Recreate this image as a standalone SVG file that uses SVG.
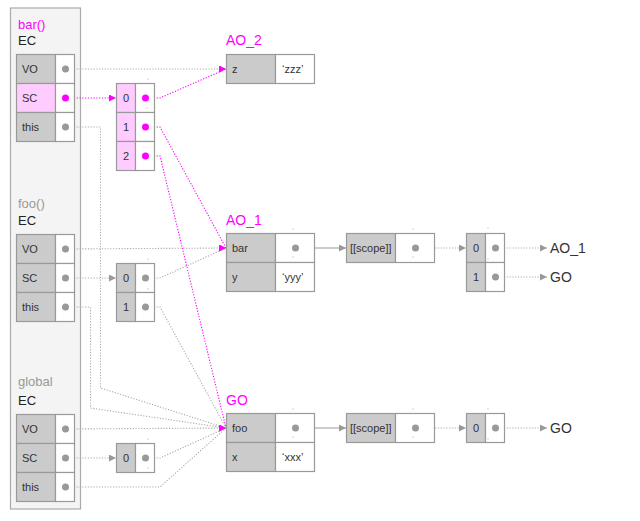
<svg xmlns="http://www.w3.org/2000/svg" width="640" height="521" viewBox="0 0 640 521">
<style>
text{font-family:"Liberation Sans","Noto Sans",Arial,sans-serif;fill:#333}
.cell{font-size:11px}
.lab{font-size:13px;fill:#222}
.mag{fill:#ff00ff}
.dim{fill:#999}
.big{font-size:14px}
.k{fill:#cbcbcb;stroke:#999;stroke-width:1.2}
.kp{fill:#ffccff;stroke:#999;stroke-width:1.2}
.v{fill:#fff;stroke:#999;stroke-width:1.2}
.d{fill:#999}
.dm{fill:#ff00ff}
.c{fill:none;stroke:#aaa;stroke-width:1.1;stroke-dasharray:1.2 1.6}
.cm{fill:none;stroke:#ff00ff;stroke-width:1.1;stroke-dasharray:1.2 1.6}
.cs{fill:none;stroke:#999;stroke-width:1.1}
.sp{fill:#ccc}
</style>
<defs>
<marker id="ag" markerUnits="userSpaceOnUse" markerWidth="9" markerHeight="9" refX="7" refY="3.5" orient="0"><path d="M0,0 L7,3.5 L0,7 z" fill="#999"/></marker>
<marker id="am" markerUnits="userSpaceOnUse" markerWidth="9" markerHeight="9" refX="7" refY="3.5" orient="0"><path d="M0,0 L7,3.5 L0,7 z" fill="#ff00ff"/></marker>
</defs>

<rect x="10.5" y="8" width="70" height="501" fill="#f4f4f4" stroke="#aaa" stroke-width="1.2"/>

<g id="connectors">
<path class="c" d="M65.5,69 L226,69" marker-end="url(#ag)"/>
<path class="c" d="M65.5,127 L100.5,127 L100.5,388 L226,428" marker-end="url(#ag)"/>
<path class="c" d="M65.5,249 L226,248" marker-end="url(#ag)"/>
<path class="c" d="M65.5,278 L116,278" marker-end="url(#ag)"/>
<path class="c" d="M145.5,278 L160,278 L226,248"/>
<path class="c" d="M145.5,307 L160,307 L226,428"/>
<path class="c" d="M65.5,307 L90.5,307 L90.5,408 L226,428"/>
<path class="c" d="M65.5,429 L226,428" marker-end="url(#ag)"/>
<path class="c" d="M65.5,458 L116,458" marker-end="url(#ag)"/>
<path class="c" d="M145.5,458 L160,458 L226,428"/>
<path class="c" d="M65.5,487 L160,487 L226,428"/>
<path class="cs" d="M295.5,248 L346,248" marker-end="url(#ag)"/>
<path class="c" d="M415.5,248 L466,248" marker-end="url(#ag)"/>
<path class="c" d="M495.5,248 L547,248" marker-end="url(#ag)"/>
<path class="c" d="M495.5,277 L547,277" marker-end="url(#ag)"/>
<path class="cs" d="M295.5,428 L346,428" marker-end="url(#ag)"/>
<path class="c" d="M415.5,428 L466,428" marker-end="url(#ag)"/>
<path class="c" d="M495.5,428 L547,428" marker-end="url(#ag)"/>
<path class="cm" d="M65.5,98 L116,98" marker-end="url(#am)"/>
<path class="cm" d="M145.5,98 L160,98 L226,69" marker-end="url(#am)"/>
<path class="cm" d="M145.5,127 L160,127 L226,248" marker-end="url(#am)"/>
<path class="cm" d="M145.5,156 L160,156 L226,428" marker-end="url(#am)"/>
</g>

<g id="bar-ec">
<text class="lab mag" x="18" y="29">bar()</text>
<text class="lab" x="18" y="45">EC</text>
<rect class="k" x="16.5" y="54.5" width="39" height="29"/><rect class="v" x="55.5" y="54.5" width="19" height="29"/>
<rect class="kp" x="16.5" y="83.5" width="39" height="29"/><rect class="v" x="55.5" y="83.5" width="19" height="29"/>
<rect class="k" x="16.5" y="112.5" width="39" height="29"/><rect class="v" x="55.5" y="112.5" width="19" height="29"/>
<text class="cell" x="22" y="73">VO</text><text class="cell" x="22" y="102">SC</text><text class="cell" x="22" y="131">this</text>
<circle class="d" cx="65.5" cy="69" r="3.5"/><circle class="dm" cx="65.5" cy="98" r="3.5"/><circle class="d" cx="65.5" cy="127" r="3.5"/>
</g>

<g id="bar-sc">
<rect class="kp" x="116.5" y="83.5" width="19" height="29"/><rect class="v" x="135.5" y="83.5" width="19" height="29"/>
<rect class="kp" x="116.5" y="112.5" width="19" height="29"/><rect class="v" x="135.5" y="112.5" width="19" height="29"/>
<rect class="kp" x="116.5" y="141.5" width="19" height="29"/><rect class="v" x="135.5" y="141.5" width="19" height="29"/>
<text class="cell" x="126" y="102" text-anchor="middle">0</text><text class="cell" x="126" y="131" text-anchor="middle">1</text><text class="cell" x="126" y="160" text-anchor="middle">2</text>
<circle class="dm" cx="145.5" cy="98" r="3.5"/><circle class="dm" cx="145.5" cy="127" r="3.5"/><circle class="dm" cx="145.5" cy="156" r="3.5"/>
<circle class="sp" cx="148" cy="79" r="0.8"/><circle class="sp" cx="147" cy="108" r="0.8"/>
</g>

<g id="foo-ec">
<text class="lab dim" x="18" y="208">foo()</text>
<text class="lab" x="18" y="225">EC</text>
<rect class="k" x="16.5" y="234.5" width="39" height="29"/><rect class="v" x="55.5" y="234.5" width="19" height="29"/>
<rect class="k" x="16.5" y="263.5" width="39" height="29"/><rect class="v" x="55.5" y="263.5" width="19" height="29"/>
<rect class="k" x="16.5" y="292.5" width="39" height="29"/><rect class="v" x="55.5" y="292.5" width="19" height="29"/>
<text class="cell" x="22" y="253">VO</text><text class="cell" x="22" y="282">SC</text><text class="cell" x="22" y="311">this</text>
<circle class="d" cx="65.5" cy="249" r="3.5"/><circle class="d" cx="65.5" cy="278" r="3.5"/><circle class="d" cx="65.5" cy="307" r="3.5"/>
</g>

<g id="foo-sc">
<rect class="k" x="116.5" y="263.5" width="19" height="29"/><rect class="v" x="135.5" y="263.5" width="19" height="29"/>
<rect class="k" x="116.5" y="292.5" width="19" height="29"/><rect class="v" x="135.5" y="292.5" width="19" height="29"/>
<text class="cell" x="126" y="282" text-anchor="middle">0</text><text class="cell" x="126" y="311" text-anchor="middle">1</text>
<circle class="d" cx="145.5" cy="278" r="3.5"/><circle class="d" cx="145.5" cy="307" r="3.5"/>
<circle class="sp" cx="148" cy="259" r="0.8"/><circle class="sp" cx="148" cy="289" r="0.8"/>
</g>

<g id="global-ec">
<text class="lab dim" x="18" y="386">global</text>
<text class="lab" x="18" y="405">EC</text>
<rect class="k" x="16.5" y="414.5" width="39" height="29"/><rect class="v" x="55.5" y="414.5" width="19" height="29"/>
<rect class="k" x="16.5" y="443.5" width="39" height="29"/><rect class="v" x="55.5" y="443.5" width="19" height="29"/>
<rect class="k" x="16.5" y="472.5" width="39" height="29"/><rect class="v" x="55.5" y="472.5" width="19" height="29"/>
<text class="cell" x="22" y="433">VO</text><text class="cell" x="22" y="462">SC</text><text class="cell" x="22" y="491">this</text>
<circle class="d" cx="65.5" cy="429" r="3.5"/><circle class="d" cx="65.5" cy="458" r="3.5"/><circle class="d" cx="65.5" cy="487" r="3.5"/>
</g>

<g id="global-sc">
<rect class="k" x="116.5" y="443.5" width="19" height="29"/><rect class="v" x="135.5" y="443.5" width="19" height="29"/>
<text class="cell" x="126" y="462" text-anchor="middle">0</text>
<circle class="d" cx="145.5" cy="458" r="3.5"/>
<circle class="sp" cx="148" cy="439" r="0.8"/><circle class="sp" cx="148" cy="468" r="0.8"/>
</g>

<g id="ao2">
<text class="big mag" x="226" y="45">AO_2</text>
<rect class="k" x="226.5" y="54.5" width="49" height="29"/><rect class="v" x="275.5" y="54.5" width="39" height="29"/>
<text class="cell" x="232" y="73">z</text><text class="cell" x="282" y="73">‘zzz’</text>
<circle class="sp" cx="293" cy="79" r="0.8"/>
</g>

<g id="ao1">
<text class="big mag" x="226" y="225">AO_1</text>
<rect class="k" x="226.5" y="233.5" width="49" height="29"/><rect class="v" x="275.5" y="233.5" width="39" height="29"/>
<rect class="k" x="226.5" y="262.5" width="49" height="29"/><rect class="v" x="275.5" y="262.5" width="39" height="29"/>
<text class="cell" x="232" y="252">bar</text><text class="cell" x="232" y="281">y</text><text class="cell" x="282" y="281">‘yyy’</text>
<circle class="d" cx="295.5" cy="248" r="3.5"/>
<circle class="sp" cx="293" cy="229" r="0.8"/><circle class="sp" cx="293" cy="257" r="0.8"/>
</g>

<g id="ao1-scope">
<rect class="k" x="346.5" y="233.5" width="49" height="29"/><rect class="v" x="395.5" y="233.5" width="39" height="29"/>
<text class="cell" x="350" y="252">[[scope]]</text>
<circle class="d" cx="415.5" cy="248" r="3.5"/>
<circle class="sp" cx="413" cy="229" r="0.8"/><circle class="sp" cx="413" cy="257" r="0.8"/>
</g>

<g id="ao1-chain">
<rect class="k" x="466.5" y="233.5" width="19" height="29"/><rect class="v" x="485.5" y="233.5" width="19" height="29"/>
<rect class="k" x="466.5" y="262.5" width="19" height="29"/><rect class="v" x="485.5" y="262.5" width="19" height="29"/>
<text class="cell" x="476" y="252" text-anchor="middle">0</text><text class="cell" x="476" y="281" text-anchor="middle">1</text>
<circle class="d" cx="495.5" cy="248" r="3.5"/><circle class="d" cx="495.5" cy="277" r="3.5"/>
<circle class="sp" cx="488" cy="228" r="0.8"/><circle class="sp" cx="488" cy="259" r="0.8"/>
</g>
<g id="ref-ao1"><text class="big" x="550" y="253">AO_1</text></g>
<g id="ref-go1"><text class="big" x="550" y="282">GO</text></g>

<g id="go">
<text class="big mag" x="226" y="405">GO</text>
<rect class="k" x="226.5" y="413.5" width="49" height="29"/><rect class="v" x="275.5" y="413.5" width="39" height="29"/>
<rect class="k" x="226.5" y="442.5" width="49" height="29"/><rect class="v" x="275.5" y="442.5" width="39" height="29"/>
<text class="cell" x="232" y="432">foo</text><text class="cell" x="232" y="461">x</text><text class="cell" x="282" y="461">‘xxx’</text>
<circle class="d" cx="295.5" cy="428" r="3.5"/>
<circle class="sp" cx="293" cy="409" r="0.8"/><circle class="sp" cx="293" cy="437" r="0.8"/>
</g>

<g id="go-scope">
<rect class="k" x="346.5" y="413.5" width="49" height="29"/><rect class="v" x="395.5" y="413.5" width="39" height="29"/>
<text class="cell" x="350" y="432">[[scope]]</text>
<circle class="d" cx="415.5" cy="428" r="3.5"/>
<circle class="sp" cx="413" cy="409" r="0.8"/><circle class="sp" cx="413" cy="437" r="0.8"/>
</g>

<g id="go-chain">
<rect class="k" x="466.5" y="413.5" width="19" height="29"/><rect class="v" x="485.5" y="413.5" width="19" height="29"/>
<text class="cell" x="476" y="432" text-anchor="middle">0</text>
<circle class="d" cx="495.5" cy="428" r="3.5"/>
<circle class="sp" cx="488" cy="409" r="0.8"/><circle class="sp" cx="488" cy="439" r="0.8"/>
</g>
<g id="ref-go2"><text class="big" x="550" y="433">GO</text></g>
</svg>
